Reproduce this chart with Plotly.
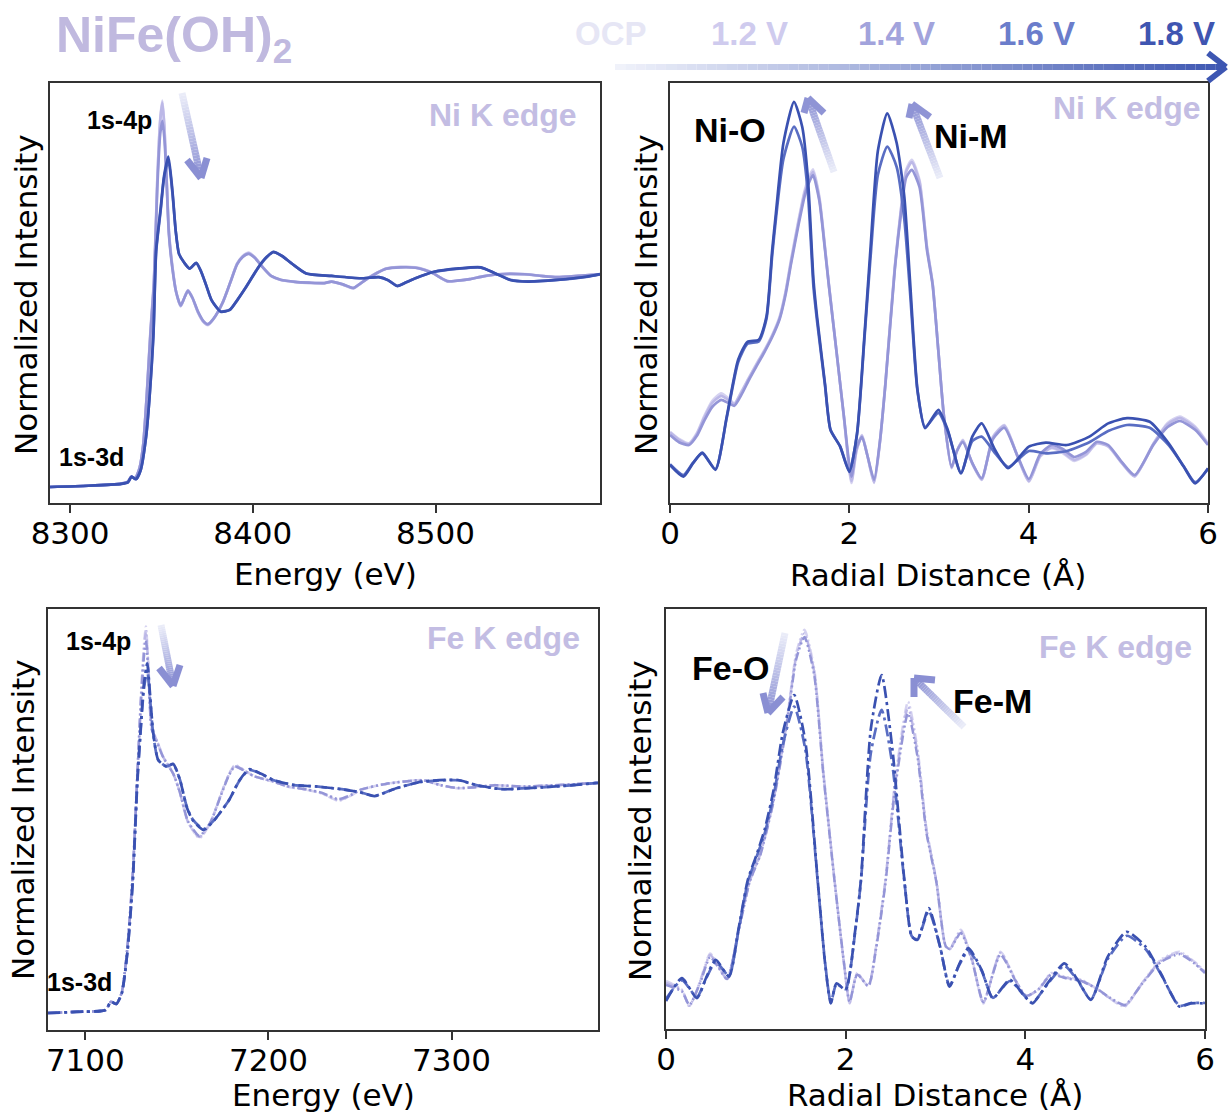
import plotly.graph_objects as go

W, H = 1231, 1115

# ---------------- data ----------------
labels = ["OCP", "1.2 V", "1.4 V", "1.6 V", "1.8 V"]
colors = ["#d5d2f0", "#bcb8e7", "#9495d7", "#596dc3", "#3a51b1"]

# Ni K-edge XANES (energy in eV)
ni_xanes_E_a = [8289, 8310, 8328, 8331.5, 8333.5, 8335.5, 8338, 8340, 8342, 8344, 8345.9, 8347.7, 8349.3, 8350.5,
                8351.6, 8352.6, 8354.1, 8356, 8358, 8360.5, 8362.5, 8364.5, 8367, 8370, 8373, 8375.4, 8378.5, 8383.4,
                8387.5, 8391.4, 8394.5, 8397.7, 8401, 8405.3, 8410, 8415.3, 8423.2, 8431, 8439.1, 8443.1, 8449, 8455,
                8459, 8463, 8468, 8473, 8481, 8489, 8494, 8499, 8503, 8506.8, 8512, 8518.8, 8526, 8534.8, 8548.7, 8557,
                8566.5, 8578, 8590]
ni_xanes_ocp = [0.0, 0.006, 0.016, 0.024, 0.05, 0.04, 0.09, 0.2, 0.45, 0.75, 0.99, 1.46, 1.75, 1.84,
                1.72, 1.52, 1.22, 1.05, 0.93, 0.86, 0.9, 0.938, 0.9, 0.83, 0.785, 0.771, 0.8, 0.875,
                0.97, 1.065, 1.1, 1.116, 1.095, 1.049, 1.005, 0.986, 0.976, 0.972, 0.97, 0.978, 0.965, 0.946,
                0.97, 0.994, 1.02, 1.04, 1.048, 1.046, 1.035, 1.017, 0.995, 0.978, 0.982, 0.99, 1.003, 1.014, 1.014, 1.006,
                0.999, 1.005, 1.014]
ni_xanes_12v = [0.0, 0.006, 0.016, 0.024, 0.05, 0.04, 0.09, 0.2, 0.44, 0.74, 0.98, 1.45, 1.74, 1.83,
                1.71, 1.51, 1.21, 1.045, 0.93, 0.862, 0.9, 0.936, 0.9, 0.832, 0.787, 0.773, 0.8, 0.876,
                0.97, 1.063, 1.098, 1.114, 1.094, 1.048, 1.005, 0.986, 0.977, 0.972, 0.971, 0.978, 0.965, 0.947,
                0.97, 0.994, 1.02, 1.04, 1.047, 1.045, 1.034, 1.016, 0.995, 0.979, 0.982, 0.99, 1.003, 1.013, 1.013, 1.006,
                0.999, 1.005, 1.013]
ni_xanes_14v = [0.0, 0.006, 0.016, 0.024, 0.05, 0.04, 0.09, 0.2, 0.44, 0.73, 0.97, 1.42, 1.68, 1.744,
                1.66, 1.5, 1.2, 1.04, 0.93, 0.865, 0.9, 0.934, 0.9, 0.835, 0.79, 0.776, 0.802, 0.877,
                0.97, 1.06, 1.096, 1.11, 1.092, 1.047, 1.005, 0.987, 0.977, 0.973, 0.971, 0.978, 0.966, 0.948,
                0.97, 0.993, 1.019, 1.039, 1.046, 1.044, 1.033, 1.016, 0.995, 0.98, 0.983, 0.99, 1.003, 1.013, 1.013, 1.006,
                0.999, 1.005, 1.013]
ni_xanes_E_b = [8289, 8310, 8328, 8331.6, 8333.6, 8336, 8338.6, 8341.6, 8343.5, 8345.6, 8347.1, 8349.6, 8351.4,
                8353.8, 8356, 8357.8, 8359.6, 8362.3, 8365.4, 8369, 8371.5, 8374.5, 8377.4, 8382.4, 8387.4, 8391.5,
                8395.4, 8403.3, 8407.5, 8411.2, 8416, 8421.2, 8429.2, 8443.1, 8459, 8469, 8474, 8479, 8484, 8489,
                8499, 8512.8, 8524.8, 8532.8, 8540.8, 8550.6, 8566.5, 8582.4, 8590]
ni_xanes_16v = [0.0, 0.006, 0.015, 0.022, 0.049, 0.037, 0.08, 0.24, 0.43, 0.72, 1.12, 1.32, 1.47,
                1.555, 1.4, 1.22, 1.11, 1.07, 1.04, 1.066, 1.03, 0.96, 0.89, 0.836, 0.844, 0.89,
                0.94, 1.048, 1.093, 1.118, 1.1, 1.065, 1.017, 1.005, 0.994, 0.999, 0.985, 0.958, 0.975, 0.994,
                1.024, 1.04, 1.045, 1.017, 0.987, 0.979, 0.986, 1.001, 1.013]
ni_xanes_18v = [0.0, 0.006, 0.015, 0.022, 0.049, 0.037, 0.08, 0.24, 0.43, 0.73, 1.13, 1.33, 1.48,
                1.573, 1.41, 1.22, 1.11, 1.07, 1.04, 1.068, 1.03, 0.96, 0.89, 0.835, 0.843, 0.89,
                0.94, 1.05, 1.095, 1.12, 1.1, 1.065, 1.017, 1.005, 0.994, 0.999, 0.985, 0.957, 0.975, 0.994,
                1.025, 1.041, 1.046, 1.017, 0.986, 0.978, 0.986, 1.001, 1.014]

# Ni K-edge FT-EXAFS (R in Angstrom)
ni_ft_R_a = [0.0, 0.1, 0.212, 0.3, 0.38, 0.47, 0.57, 0.65, 0.717, 0.8, 0.886, 0.97, 1.055, 1.14, 1.223, 1.29, 1.35,
             1.434, 1.5, 1.539, 1.594, 1.665, 1.728, 1.771, 1.855, 1.939, 2.023, 2.08, 2.141, 2.2, 2.276, 2.34,
             2.402, 2.507, 2.57, 2.634, 2.697, 2.782, 2.866, 2.929, 2.992, 3.055, 3.14, 3.2, 3.266, 3.371, 3.476,
             3.602, 3.729, 3.877, 4.002, 4.128, 4.256, 4.38, 4.508, 4.64, 4.761, 4.887, 5.04, 5.182, 5.392, 5.55,
             5.687, 5.856, 6.0]
ni_ft_ocp = [0.178, 0.16, 0.149, 0.175, 0.216, 0.255, 0.274, 0.262, 0.249, 0.28, 0.316, 0.35, 0.383, 0.42, 0.466,
             0.53, 0.608, 0.708, 0.78, 0.808, 0.834, 0.766, 0.641, 0.549, 0.383, 0.216, 0.05, 0.13, 0.17, 0.12,
             0.05, 0.15, 0.299, 0.591, 0.724, 0.833, 0.858, 0.808, 0.641, 0.549, 0.383, 0.216, 0.087, 0.13, 0.158,
             0.099, 0.058, 0.166, 0.195, 0.116, 0.053, 0.116, 0.137, 0.125, 0.105, 0.12, 0.149, 0.141, 0.1, 0.066,
             0.149, 0.2, 0.216, 0.191, 0.149]
ni_ft_12v = [0.176, 0.158, 0.148, 0.172, 0.212, 0.25, 0.268, 0.258, 0.247, 0.278, 0.314, 0.348, 0.381, 0.418, 0.463,
             0.527, 0.604, 0.703, 0.774, 0.802, 0.828, 0.762, 0.638, 0.547, 0.382, 0.216, 0.055, 0.132, 0.168, 0.12,
             0.052, 0.15, 0.298, 0.588, 0.72, 0.828, 0.852, 0.803, 0.638, 0.548, 0.383, 0.216, 0.088, 0.13, 0.156,
             0.099, 0.059, 0.164, 0.193, 0.116, 0.055, 0.118, 0.139, 0.128, 0.108, 0.122, 0.15, 0.142, 0.1, 0.067,
             0.148, 0.197, 0.212, 0.188, 0.147]
ni_ft_14v = [0.17, 0.152, 0.145, 0.168, 0.205, 0.24, 0.258, 0.25, 0.243, 0.272, 0.31, 0.344, 0.378, 0.415, 0.46,
             0.522, 0.598, 0.696, 0.766, 0.795, 0.82, 0.756, 0.634, 0.545, 0.382, 0.218, 0.066, 0.138, 0.165, 0.12,
             0.058, 0.152, 0.296, 0.583, 0.712, 0.814, 0.833, 0.79, 0.632, 0.545, 0.382, 0.218, 0.09, 0.13, 0.152,
             0.1, 0.062, 0.16, 0.188, 0.117, 0.06, 0.122, 0.145, 0.135, 0.115, 0.128, 0.153, 0.145, 0.102, 0.07,
             0.146, 0.19, 0.205, 0.183, 0.145]
ni_ft_R_b = [0.0, 0.149, 0.255, 0.36, 0.507, 0.633, 0.76, 0.865, 0.99, 1.076, 1.14, 1.181, 1.265, 1.383, 1.475,
             1.539, 1.6, 1.64, 1.728, 1.79, 1.897, 2.0, 2.086, 2.17, 2.235, 2.318, 2.423, 2.528, 2.613, 2.676, 2.76,
             2.845, 2.993, 3.097, 3.245, 3.371, 3.476, 3.624, 3.771, 4.002, 4.192, 4.425, 4.677, 4.887, 5.097, 5.35,
             5.561, 5.729, 5.856, 6.0]
ni_ft_16v = [0.097, 0.07, 0.1, 0.124, 0.085, 0.213, 0.352, 0.398, 0.404, 0.46, 0.62, 0.71, 0.86, 0.941, 0.89,
             0.77, 0.54, 0.455, 0.295, 0.183, 0.142, 0.08, 0.172, 0.415, 0.61, 0.82, 0.891, 0.84, 0.71, 0.53, 0.28,
             0.19, 0.225, 0.18, 0.076, 0.155, 0.166, 0.125, 0.09, 0.13, 0.124, 0.13, 0.152, 0.18, 0.195, 0.188,
             0.145, 0.092, 0.052, 0.085]
ni_ft_18v = [0.095, 0.066, 0.099, 0.126, 0.083, 0.216, 0.358, 0.403, 0.408, 0.466, 0.633, 0.724, 0.9, 1.003, 0.94,
             0.808, 0.558, 0.466, 0.299, 0.183, 0.141, 0.078, 0.174, 0.424, 0.633, 0.88, 0.974, 0.9, 0.766, 0.558,
             0.283, 0.187, 0.233, 0.183, 0.074, 0.166, 0.199, 0.133, 0.087, 0.141, 0.151, 0.145, 0.166, 0.199,
             0.212, 0.203, 0.149, 0.091, 0.049, 0.087]

# Fe K-edge XANES
fe_xanes_E_a = [7079.6, 7095, 7111, 7114, 7116.9, 7119.9, 7122.9, 7125.9, 7128.4, 7130.5, 7132, 7133.1, 7134.5,
                7136.2, 7139, 7142.6, 7148, 7151.7, 7156, 7162.3, 7168.2, 7174, 7178.5, 7181.7, 7186, 7192, 7202.6,
                7210, 7220.9, 7229, 7238.3, 7245, 7250.3, 7264.1, 7284, 7293.9, 7303.5, 7313, 7323.5, 7339.4, 7355,
                7368, 7380]
fe_xanes_ocp = [0.0, 0.005, 0.013, 0.049, 0.039, 0.09, 0.28, 0.62, 1.05, 1.4, 1.6, 1.68, 1.5,
                1.245, 1.187, 1.114, 1.042, 0.957, 0.83, 0.76, 0.825, 0.95, 1.04, 1.078, 1.06, 1.03, 1.006,
                0.985, 0.97, 0.955, 0.923, 0.945, 0.97, 0.996, 1.013, 0.991, 0.977, 0.982, 0.991, 0.984, 0.99,
                0.995, 1.001]
fe_xanes_12v = [0.0, 0.005, 0.013, 0.049, 0.039, 0.09, 0.28, 0.61, 1.04, 1.39, 1.58, 1.66, 1.49,
                1.24, 1.185, 1.112, 1.04, 0.956, 0.832, 0.765, 0.826, 0.948, 1.038, 1.075, 1.058, 1.03, 1.006,
                0.986, 0.971, 0.956, 0.926, 0.946, 0.97, 0.996, 1.012, 0.991, 0.978, 0.982, 0.99, 0.984, 0.99,
                0.995, 1.001]
fe_xanes_14v = [0.0, 0.005, 0.013, 0.049, 0.039, 0.09, 0.28, 0.6, 1.03, 1.37, 1.55, 1.62, 1.47,
                1.235, 1.18, 1.11, 1.04, 0.958, 0.835, 0.77, 0.828, 0.945, 1.035, 1.072, 1.057, 1.03, 1.007,
                0.987, 0.972, 0.958, 0.93, 0.948, 0.971, 0.996, 1.012, 0.991, 0.978, 0.982, 0.99, 0.985, 0.99,
                0.995, 1.001]
fe_xanes_E_b = [7079.6, 7095, 7111, 7114, 7116.9, 7119.9, 7122.9, 7125.9, 7128.4, 7129.9, 7132, 7133.8, 7135.3,
                7137.1, 7139.8, 7144.4, 7148, 7151.7, 7155.3, 7158.6, 7164.6, 7170.5, 7178.5, 7184, 7189.5, 7196,
                7202.6, 7214.2, 7226, 7240, 7250, 7257.9, 7269.8, 7283.7, 7303.5, 7313.5, 7327.4, 7349.2, 7365, 7380]
fe_xanes_16v = [0.0, 0.005, 0.013, 0.049, 0.039, 0.086, 0.26, 0.57, 1.0, 1.19, 1.41, 1.49, 1.37,
                1.21, 1.1, 1.072, 1.082, 1.013, 0.9, 0.842, 0.8, 0.84, 0.926, 1.008, 1.057, 1.04,
                1.013, 0.991, 0.985, 0.973, 0.96, 0.944, 0.977, 1.005, 1.012, 0.991, 0.974, 0.981, 0.99, 1.001]
fe_xanes_18v = [0.0, 0.005, 0.013, 0.049, 0.039, 0.086, 0.26, 0.578, 1.013, 1.2, 1.433, 1.52, 1.39,
                1.216, 1.1, 1.071, 1.083, 1.013, 0.897, 0.839, 0.796, 0.839, 0.926, 1.01, 1.06, 1.04,
                1.013, 0.991, 0.985, 0.973, 0.96, 0.943, 0.977, 1.006, 1.013, 0.991, 0.973, 0.981, 0.99, 1.001]

# Fe K-edge FT-EXAFS
fe_ft_R_a = [0.0, 0.177, 0.26, 0.38, 0.491, 0.58, 0.68, 0.806, 0.932, 1.05, 1.2, 1.35, 1.45, 1.541, 1.65, 1.75,
             1.876, 1.98, 2.044, 2.128, 2.253, 2.338, 2.443, 2.55, 2.694, 2.8, 2.9, 3.009, 3.114, 3.16, 3.282,
             3.408, 3.533, 3.723, 3.89, 4.01, 4.15, 4.289, 4.45, 4.624, 4.8, 4.95, 5.107, 5.296, 5.506, 5.716,
             5.883, 6.0]
fe_ft_ocp = [0.12, 0.098, 0.056, 0.12, 0.189, 0.16, 0.123, 0.248, 0.373, 0.44, 0.58, 0.78, 0.94, 0.998, 0.9,
             0.65, 0.373, 0.164, 0.064, 0.14, 0.106, 0.206, 0.373, 0.62, 0.818, 0.7, 0.5, 0.373, 0.206, 0.2, 0.248,
             0.173, 0.064, 0.193, 0.123, 0.081, 0.1, 0.14, 0.13, 0.123, 0.1, 0.075, 0.056, 0.114, 0.173, 0.193,
             0.168, 0.143]
fe_ft_12v = [0.115, 0.096, 0.058, 0.118, 0.185, 0.158, 0.124, 0.245, 0.37, 0.437, 0.576, 0.775, 0.932, 0.989,
             0.893, 0.645, 0.372, 0.166, 0.066, 0.138, 0.107, 0.204, 0.37, 0.61, 0.805, 0.69, 0.495, 0.37, 0.206,
             0.2, 0.245, 0.172, 0.066, 0.19, 0.122, 0.082, 0.1, 0.138, 0.128, 0.121, 0.1, 0.076, 0.058, 0.113,
             0.17, 0.19, 0.166, 0.142]
fe_ft_14v = [0.11, 0.094, 0.06, 0.115, 0.18, 0.155, 0.125, 0.242, 0.368, 0.435, 0.572, 0.77, 0.925, 0.98,
             0.885, 0.64, 0.37, 0.168, 0.068, 0.136, 0.108, 0.2, 0.365, 0.6, 0.789, 0.68, 0.49, 0.368, 0.207,
             0.2, 0.24, 0.17, 0.068, 0.186, 0.121, 0.083, 0.1, 0.136, 0.127, 0.12, 0.1, 0.077, 0.06, 0.112,
             0.167, 0.187, 0.164, 0.14]
fe_ft_R_b = [0.0, 0.177, 0.344, 0.45, 0.554, 0.701, 0.806, 0.911, 1.0, 1.1, 1.2, 1.3, 1.427, 1.55, 1.688, 1.771,
             1.835, 1.897, 2.0, 2.107, 2.17, 2.28, 2.4, 2.52, 2.653, 2.736, 2.799, 2.925, 3.051, 3.156, 3.26, 3.366,
             3.513, 3.638, 3.827, 3.995, 4.079, 4.247, 4.435, 4.582, 4.729, 4.918, 5.128, 5.338, 5.506, 5.716,
             5.841, 6.0]
fe_ft_16v = [0.075, 0.122, 0.08, 0.128, 0.168, 0.133, 0.245, 0.368, 0.425, 0.49, 0.585, 0.71, 0.806, 0.7, 0.37,
             0.166, 0.066, 0.112, 0.1, 0.245, 0.37, 0.69, 0.798, 0.66, 0.37, 0.232, 0.224, 0.295, 0.205, 0.108,
             0.158, 0.196, 0.146, 0.078, 0.12, 0.082, 0.066, 0.112, 0.158, 0.121, 0.074, 0.175, 0.233, 0.2,
             0.138, 0.058, 0.065, 0.065]
fe_ft_18v = [0.07, 0.127, 0.077, 0.13, 0.173, 0.131, 0.248, 0.373, 0.43, 0.5, 0.6, 0.74, 0.835, 0.72, 0.373,
             0.164, 0.064, 0.114, 0.098, 0.248, 0.373, 0.75, 0.885, 0.7, 0.373, 0.231, 0.223, 0.302, 0.206, 0.106,
             0.16, 0.202, 0.148, 0.077, 0.123, 0.081, 0.064, 0.114, 0.164, 0.123, 0.073, 0.181, 0.243, 0.206,
             0.14, 0.056, 0.064, 0.064]

# ---------------- figure ----------------
def dom_x(a, b):
    return [a / W, b / W]

def dom_y(top, bottom):
    return [1 - bottom / H, 1 - top / H]

fig = go.Figure()

panels = [
    ("x", "y", dom_x(50, 600), dom_y(83, 503), [8289, 8590], [-0.0762, 1.9238], 100, 8300,
     [(ni_xanes_E_a, [ni_xanes_ocp, ni_xanes_12v, ni_xanes_14v]), (ni_xanes_E_b, [ni_xanes_16v, ni_xanes_18v])], True),
    ("x2", "y2", dom_x(670, 1208), dom_y(83, 503), [0, 6], [0, 1.05], 2, 0,
     [(ni_ft_R_a, [ni_ft_ocp, ni_ft_12v, ni_ft_14v]), (ni_ft_R_b, [ni_ft_16v, ni_ft_18v])], True),
    ("x3", "y3", dom_x(48, 598), dom_y(609, 1030), [7079.6, 7380], [-0.0739, 1.7565], 100, 7100,
     [(fe_xanes_E_a, [fe_xanes_ocp, fe_xanes_12v, fe_xanes_14v]), (fe_xanes_E_b, [fe_xanes_16v, fe_xanes_18v])], False),
    ("x4", "y4", dom_x(666, 1205), dom_y(609, 1029), [0, 6], [0, 1.05], 2, 0,
     [(fe_ft_R_a, [fe_ft_ocp, fe_ft_12v, fe_ft_14v]), (fe_ft_R_b, [fe_ft_16v, fe_ft_18v])], False),
]

axis_font = dict(family="DejaVu Sans", size=31, color="#000000")
layout_axes = {}
for i, (xa, ya, xd, yd, xr, yr, dt, t0, groups, solid) in enumerate(panels):
    k = 0
    for xs, ylist in groups:
        for ys in ylist:
            assert len(xs) == len(ys), (i, k, len(xs), len(ys))
            if solid:
                dash = "solid"
                lw = 2.7
            else:
                dash = "12px,4px,3px,4px" if k >= 3 else "9px,3px,2px,3px,2px,3px"
                lw = 2.7 if k >= 3 else 2.5
            fig.add_trace(go.Scatter(x=xs, y=ys, mode="lines", name=labels[k], showlegend=False,
                                     line=dict(color=colors[k], width=lw, dash=dash, shape="spline", smoothing=0.6),
                                     xaxis=xa, yaxis=ya))
            k += 1
    xname = "xaxis" if xa == "x" else "xaxis" + xa[1:]
    yname = "yaxis" if ya == "y" else "yaxis" + ya[1:]
    layout_axes[xname] = dict(domain=xd, range=xr, anchor=ya, showline=True, linecolor="#333333", linewidth=1.6,
                              mirror=True, ticks="outside", ticklen=8, tickwidth=1.6, tickcolor="#333333",
                              dtick=dt, tick0=t0, showgrid=False, zeroline=False, tickfont=axis_font,
                              ticklabelstandoff=-6, automargin=False)
    layout_axes[yname] = dict(domain=yd, range=yr, anchor=xa, showline=True, linecolor="#333333", linewidth=1.6,
                              mirror=True, ticks="", showticklabels=False, showgrid=False, zeroline=False,
                              automargin=False)

fig.update_layout(template="none", width=W, height=H, margin=dict(l=0, r=0, t=0, b=0, autoexpand=False),
                  plot_bgcolor="white", paper_bgcolor="white", **layout_axes)

# ---------------- annotations ----------------
def P(x, y):
    return x / W, 1 - y / H

ann = []
def text(x, y, s, size, color, family="Liberation Sans", angle=0):
    px, py = P(x, y)
    ann.append(dict(x=px, y=py, xref="paper", yref="paper", text=s, showarrow=False, xanchor="center",
                    yanchor="middle", textangle=angle, font=dict(family=family, size=size, color=color)))

lav = "#c3bde3"
text(174, 38, "<b>NiFe(OH)<sub>2</sub></b>", 50, "#c0b9df")
text(611, 33, "<b>OCP</b>", 33, "#e6e6f5")
text(749, 33, "<b>1.2 V</b>", 33, "#cfcbee")
text(896, 33, "<b>1.4 V</b>", 33, "#a2a3dc")
text(1036, 33, "<b>1.6 V</b>", 33, "#6b7dcb")
text(1176, 33, "<b>1.8 V</b>", 33, "#3f55b1")

text(503, 115, "<b>Ni K edge</b>", 32, lav)
text(1127, 108, "<b>Ni K edge</b>", 32, lav)
text(503, 638, "<b>Fe K edge</b>", 32, lav)
text(1115, 647, "<b>Fe K edge</b>", 32, lav)

text(119, 120, "<b>1s-4p</b>", 25, "#000000")
text(91, 457, "<b>1s-3d</b>", 25, "#000000")
text(98, 641, "<b>1s-4p</b>", 25, "#000000")
text(80, 982, "<b>1s-3d</b>", 25, "#000000")

text(730, 130, "<b>Ni-O</b>", 34, "#000000")
text(971, 136, "<b>Ni-M</b>", 34, "#000000")
text(730, 668, "<b>Fe-O</b>", 34, "#000000")
text(992, 701, "<b>Fe-M</b>", 34, "#000000")

text(325, 574, "Energy (eV)", 31, "#000000", "DejaVu Sans")
text(938, 575, "Radial Distance (Å)", 31, "#000000", "DejaVu Sans")
text(323, 1095, "Energy (eV)", 31, "#000000", "DejaVu Sans")
text(935, 1095, "Radial Distance (Å)", 31, "#000000", "DejaVu Sans")
text(26, 295, "Normalized Intensity", 31, "#000000", "DejaVu Sans", -90)
text(646, 295, "Normalized Intensity", 31, "#000000", "DejaVu Sans", -90)
text(23, 820, "Normalized Intensity", 31, "#000000", "DejaVu Sans", -90)
text(640, 820, "Normalized Intensity", 31, "#000000", "DejaVu Sans", -90)

fig.update_layout(annotations=ann)

# ---------------- gradient arrows ----------------
def hex2rgb(h):
    h = h.lstrip("#")
    return tuple(int(h[i:i + 2], 16) for i in (0, 2, 4))

def mix(c0, c1, t):
    a, b = hex2rgb(c0), hex2rgb(c1)
    return "rgb(%d,%d,%d)" % tuple(round(a[i] + (b[i] - a[i]) * t) for i in range(3))

shapes = []
def grad_arrow(x0, y0, x1, y1, arms, c0, c1, width, n=30):
    for i in range(n):
        t0, t1 = i / n, (i + 1) / n
        xa, ya = P(x0 + (x1 - x0) * t0, y0 + (y1 - y0) * t0)
        xb, yb = P(x0 + (x1 - x0) * t1, y0 + (y1 - y0) * t1)
        shapes.append(dict(type="line", xref="paper", yref="paper", x0=xa, y0=ya, x1=xb, y1=yb,
                           line=dict(color=mix(c0, c1, (t0 + t1) / 2), width=width)))
    tx, ty = P(x1, y1)
    for (ax, ay) in arms:
        qx, qy = P(ax, ay)
        shapes.append(dict(type="line", xref="paper", yref="paper", x0=qx, y0=qy, x1=tx, y1=ty,
                           line=dict(color=c1, width=width)))

grad_arrow(615, 67, 1226, 67, [(1208, 53), (1208, 81)], "#f1f3fb", "#3d56b2", 6, n=60)
grad_arrow(182, 93, 201, 178, [(187, 160), (207, 158)], "#eceef9", "#8a8fd3", 7)
grad_arrow(834, 172, 808, 98, [(804, 113), (824, 113)], "#eceef9", "#8f94d5", 7)
grad_arrow(940, 178, 912, 104, [(909, 118), (930, 117)], "#eceef9", "#8f94d5", 7)
grad_arrow(161, 625, 173, 686, [(159, 668), (180, 665)], "#eceef9", "#8a8fd3", 7)
grad_arrow(785, 633, 768, 713, [(763, 693), (783, 697)], "#eceef9", "#8a8fd3", 7)
grad_arrow(964, 727, 914, 678, [(914, 697), (935, 680)], "#eceef9", "#8a8fd3", 7)

fig.update_layout(shapes=shapes)

fig.write_html("out.html")
